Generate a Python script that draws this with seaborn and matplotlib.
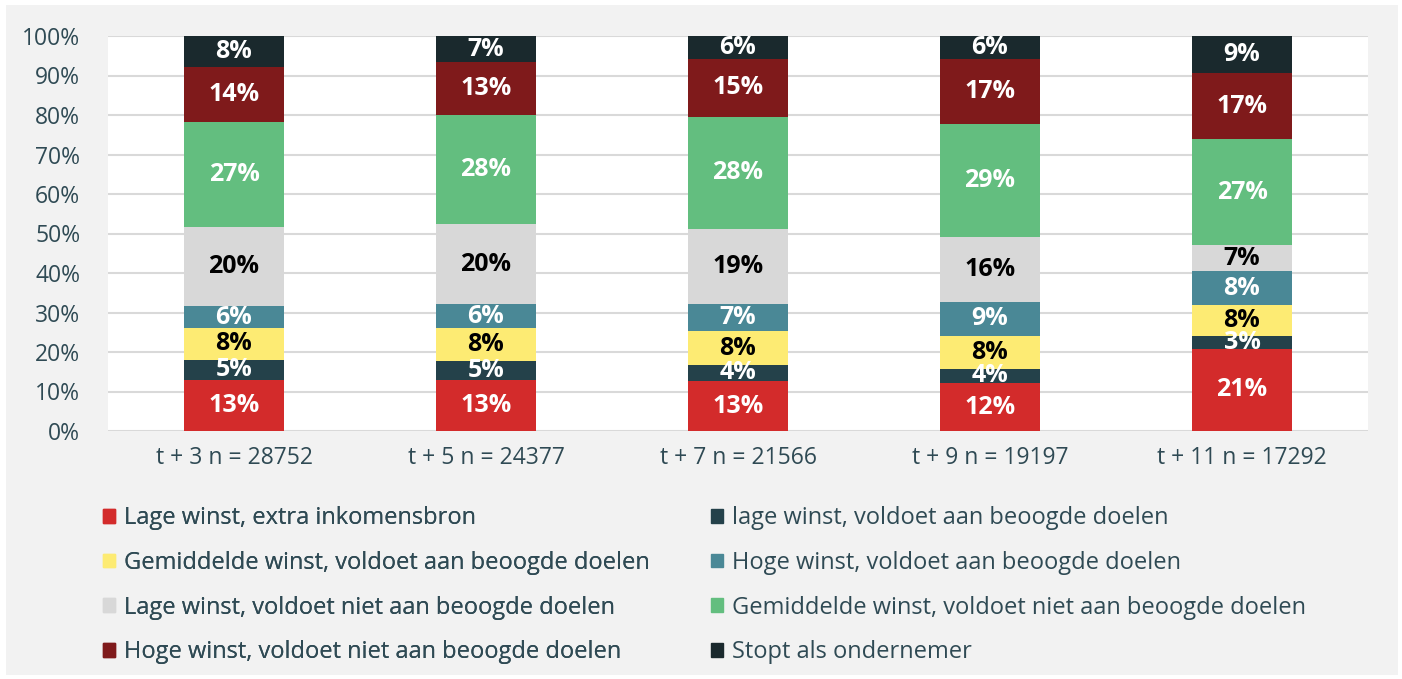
import matplotlib
matplotlib.use("Agg")
import matplotlib.pyplot as plt
import matplotlib.patches as mpatches
import numpy as np
import pandas as pd
import seaborn as sns

# x labels
periods = [
    "t + 3 n = 28752",
    "t + 5 n = 24377",
    "t + 7 n = 21566",
    "t + 9 n = 19197",
    "t + 11 n = 17292",
]

series_names = [
    "Lage winst, extra inkomensbron",
    "lage winst, voldoet aan beoogde doelen",
    "Gemiddelde winst, voldoet aan beoogde doelen",
    "Hoge winst, voldoet aan beoogde doelen",
    "Lage winst, voldoet niet aan beoogde doelen",
    "Gemiddelde winst, voldoet niet aan beoogde doelen",
    "Hoge winst, voldoet niet aan beoogde doelen",
    "Stopt als ondernemer",
]

# shares per series (%), one value per period
lage_extra = [12.8, 12.9, 12.6, 12.1, 20.8]
lage_voldoet = [5.3, 4.9, 4.2, 3.7, 3.2]
gem_voldoet = [7.9, 8.3, 8.4, 8.3, 8.0]
hoge_voldoet = [5.7, 6.0, 7.0, 8.6, 8.4]
lage_niet = [19.9, 20.2, 19.0, 16.4, 6.6]
gem_niet = [26.6, 27.8, 28.4, 28.6, 26.9]
hoge_niet = [14.0, 13.2, 14.7, 16.6, 16.7]
stopt = [7.8, 6.7, 5.7, 5.7, 9.4]

colors = ["#D32B2B", "#24414A", "#FDEB73", "#4A8896",
          "#D8D8D8", "#63BE7F", "#7F1A1B", "#1A292D"]
label_colors = ["white", "white", "black", "white",
                "black", "white", "white", "white"]

values = np.array([lage_extra, lage_voldoet, gem_voldoet, hoge_voldoet,
                   lage_niet, gem_niet, hoge_niet, stopt])
cum = values.cumsum(axis=0)

sns.set_theme(style="white")
plt.rcParams["font.family"] = ["Open Sans", "DejaVu Sans"]

text_col = "#2F4A54"

fig = plt.figure(figsize=(14.02, 6.79), dpi=100)
fig.patch.set_facecolor("white")
fig.patches.append(mpatches.Rectangle(
    (6 / 1402, 4 / 679), 1392 / 1402, 670 / 679,
    transform=fig.transFigure, facecolor="#F2F2F2", edgecolor="none", zorder=-10))

ax = fig.add_axes([108 / 1402, 1 - 431 / 679, 1260 / 1402, 395 / 679])
ax.set_facecolor("white")

# draw stacked bars: tallest cumulative first, then overlay
for i in range(len(series_names) - 1, -1, -1):
    df = pd.DataFrame({"period": periods, "value": cum[i]})
    sns.barplot(data=df, x="period", y="value", color=colors[i],
                saturation=1, width=0.4, linewidth=0, ax=ax, zorder=3)

# segment labels
for i in range(len(series_names)):
    for j in range(len(periods)):
        bottom = cum[i][j] - values[i][j]
        ax.text(j, bottom + values[i][j] / 2, f"{values[i][j]:.0f}%",
                ha="center", va="center", fontsize=18, fontweight="bold",
                color=label_colors[i], zorder=5)

ax.set_xlim(-0.5, 4.5)
ax.set_ylim(0, 100)
ax.set_yticks(np.arange(0, 101, 10))
ax.set_yticklabels([f"{t}%" for t in range(0, 101, 10)])
ax.yaxis.grid(True, color="#D9D9D9", linewidth=1.5, zorder=0)
ax.set_axisbelow(True)
for s in ax.spines.values():
    s.set_visible(False)
ax.tick_params(axis="both", length=0, labelsize=16.5, colors=text_col)
ax.tick_params(axis="y", pad=20)
ax.tick_params(axis="x", pad=11)
ax.set_xlabel("")
ax.set_ylabel("")

# legend in two columns, row-major order
handles = [mpatches.Patch(color=c) for c in colors]
leg_kw = dict(frameon=False, fontsize=17, handlelength=0.52, handleheight=0.52,
              handletextpad=0.35, labelspacing=0.88, labelcolor=text_col,
              borderpad=0, borderaxespad=0, loc="upper left")
leg1 = fig.legend([handles[k] for k in (0, 2, 4, 6)],
                  [series_names[k] for k in (0, 2, 4, 6)],
                  bbox_to_anchor=(103 / 1402, 1 - 506 / 679), **leg_kw)
fig.add_artist(leg1)
fig.legend([handles[k] for k in (1, 3, 5, 7)],
           [series_names[k] for k in (1, 3, 5, 7)],
           bbox_to_anchor=(711 / 1402, 1 - 506 / 679), **leg_kw)

fig.savefig("out.png", dpi=100, facecolor=fig.get_facecolor())
